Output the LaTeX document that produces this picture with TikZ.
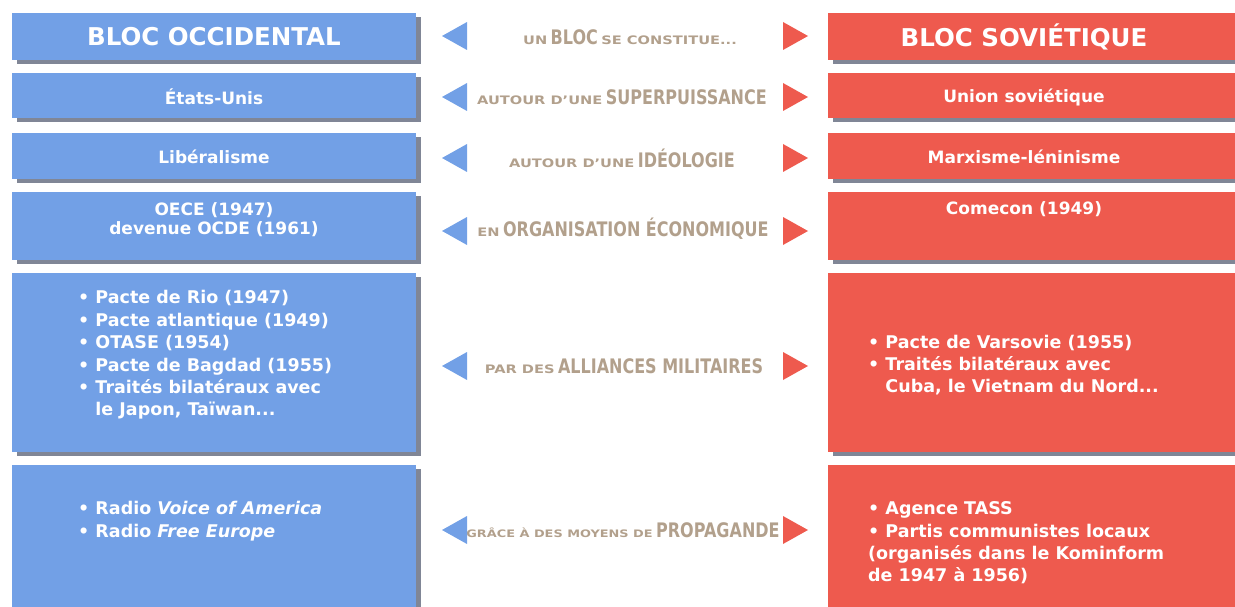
\documentclass[tikz,border=0pt]{standalone}
\usepackage{fontspec}
\setmainfont{DejaVu Sans}
\newfontfamily\widefont[FakeStretch=1.25]{DejaVu Sans}
\newfontfamily\condfont[FakeStretch=0.8]{DejaVu Sans}
\usetikzlibrary{shadows}

\definecolor{occblue}{RGB}{114,160,230}
\definecolor{sovred}{RGB}{238,90,78}
\definecolor{midtan}{RGB}{178,160,140}
\definecolor{shadowgray}{RGB}{128,134,150}

\newcommand{\smallcaps}[2][11.7]{{\widefont\fontsize{#1}{14}\selectfont #2}}
\newcommand{\bigword}[1]{{\condfont\fontsize{20}{24}\selectfont #1}}

\tikzset{
  blockbox/.style={rectangle, inner sep=0pt,
    drop shadow={shadow xshift=5pt, shadow yshift=-4pt, fill=shadowgray, opacity=1}},
  westbox/.style={blockbox, fill=occblue, minimum width=404pt},
  eastbox/.style={blockbox, fill=sovred, minimum width=412pt},
  boxtext/.style={text=white, inner sep=0pt, align=center,
    font=\bfseries\fontsize{17}{19}\selectfont},
  headtext/.style={boxtext, font=\bfseries\fontsize{24.5}{28}\selectfont},
  listtext/.style={boxtext, align=left, anchor=west,
    font=\bfseries\fontsize{17.5}{22.4}\selectfont},
  midtext/.style={text=midtan, inner sep=0pt, font=\bfseries}
}

\begin{document}
\begin{tikzpicture}[x=1pt,y=-1pt]
  \useasboundingbox (0,0) rectangle (1235,607);

  % left column, bloc occidental
  \node[westbox, minimum height=47pt] (occ1) at (214,36.5) {};
  \node[westbox, minimum height=45pt] (occ2) at (214,95.5) {};
  \node[westbox, minimum height=46pt] (occ3) at (214,156) {};
  \node[westbox, minimum height=68pt] (occ4) at (214,226) {};
  \node[westbox, minimum height=179pt] (occ5) at (214,362.5) {};
  \node[westbox, minimum height=150pt] (occ6) at (214,540) {};

  % right column, bloc sovietique
  \node[eastbox, minimum height=47pt] (sov1) at (1034,36.5) {};
  \node[eastbox, minimum height=45pt] (sov2) at (1034,95.5) {};
  \node[eastbox, minimum height=46pt] (sov3) at (1034,156) {};
  \node[eastbox, minimum height=68pt] (sov4) at (1034,226) {};
  \node[eastbox, minimum height=179pt] (sov5) at (1034,362.5) {};
  \node[eastbox, minimum height=150pt] (sov6) at (1034,540) {};

  % texts of the left boxes
  \node[headtext] (occtitle) at (214,37) {BLOC OCCIDENTAL};
  \node[boxtext] (usa) at (214,97) {États-Unis};
  \node[boxtext] (liberal) at (214,157) {Libéralisme};
  \node[boxtext] (oece) at (214,220) {OECE (1947)\\devenue OCDE (1961)};
  \node[listtext] (pactes) at (78,355) {• Pacte de Rio (1947)\\
    • Pacte atlantique (1949)\\
    • OTASE (1954)\\
    • Pacte de Bagdad (1955)\\
    • Traités bilatéraux avec\\
    \hphantom{• }le Japon, Taïwan...};
  \node[listtext] (radios) at (78,521) {• Radio \textit{Voice of America}\\
    • Radio \textit{Free Europe}};

  % texts of the right boxes
  \node[headtext] (sovtitle) at (1024,37) {BLOC SOVIÉTIQUE};
  \node[boxtext] (urss) at (1024,97) {Union soviétique};
  \node[boxtext] (marx) at (1024,157) {Marxisme-léninisme};
  \node[boxtext] (comecon) at (1024,209) {Comecon (1949)};
  \node[listtext] (varsovie) at (868,365) {• Pacte de Varsovie (1955)\\
    • Traités bilatéraux avec\\
    \hphantom{• }Cuba, le Vietnam du Nord...};
  \node[listtext] (tass) at (868,543) {• Agence TASS\\
    • Partis communistes locaux\\
    (organisés dans le Kominform\\
    de 1947 à 1956)};

  % middle column
  \node[midtext] (bloc) at (630,37) {\smallcaps{UN} \bigword{BLOC} \smallcaps{SE CONSTITUE...}};
  \node[midtext] (puissance) at (622,97) {\smallcaps{AUTOUR D’UNE} \bigword{SUPERPUISSANCE}};
  \node[midtext] (ideo) at (622,158) {\smallcaps{AUTOUR D’UNE} \bigword{IDÉOLOGIE}};
  \node[midtext] (eco) at (623,229) {\smallcaps{EN} \bigword{ORGANISATION ÉCONOMIQUE}};
  \node[midtext] (alliances) at (624,366) {\smallcaps{PAR DES} \bigword{ALLIANCES MILITAIRES}};
  \node[midtext] (propa) at (623,530) {\smallcaps[10.3]{GRÂCE À DES MOYENS DE} \bigword{PROPAGANDE}};

  % arrow heads
  \fill[occblue] (467,22) -- (442,36) -- (467,50) -- cycle;
  \fill[occblue] (467,83) -- (442,97) -- (467,111) -- cycle;
  \fill[occblue] (467,144) -- (442,158) -- (467,172) -- cycle;
  \fill[occblue] (467,217) -- (442,231) -- (467,245) -- cycle;
  \fill[occblue] (467,352) -- (442,366) -- (467,380) -- cycle;
  \fill[occblue] (467,516) -- (442,530) -- (467,544) -- cycle;
  \fill[sovred] (783,22) -- (808,36) -- (783,50) -- cycle;
  \fill[sovred] (783,83) -- (808,97) -- (783,111) -- cycle;
  \fill[sovred] (783,144) -- (808,158) -- (783,172) -- cycle;
  \fill[sovred] (783,217) -- (808,231) -- (783,245) -- cycle;
  \fill[sovred] (783,352) -- (808,366) -- (783,380) -- cycle;
  \fill[sovred] (783,516) -- (808,530) -- (783,544) -- cycle;
\end{tikzpicture}
\end{document}
